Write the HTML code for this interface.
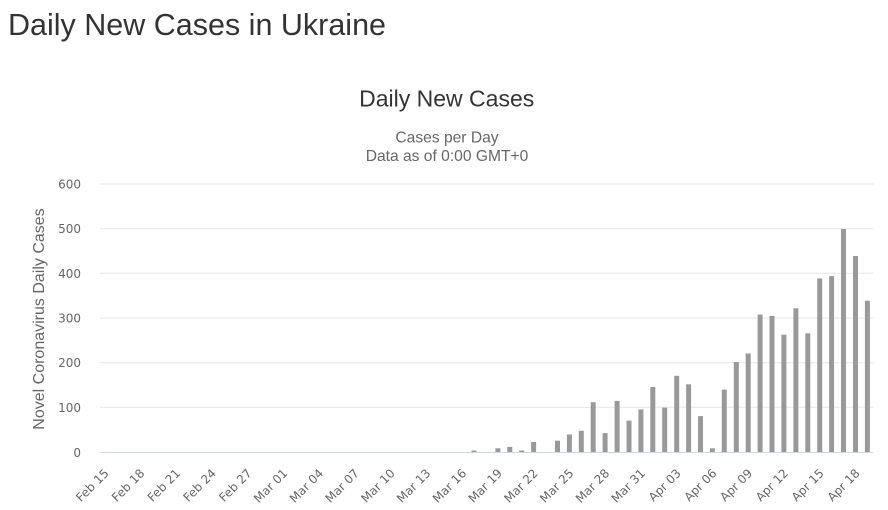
<!DOCTYPE html>
<html><head><meta charset="utf-8"><style>
html,body{margin:0;padding:0;background:#fff;width:888px;height:510px;overflow:hidden}
svg{position:absolute;left:0;top:0}
</style></head><body>
<svg width="888" height="510" viewBox="0 0 888 510" xmlns="http://www.w3.org/2000/svg">
<text x="8" y="35" font-family="Liberation Sans, sans-serif" font-size="30.5" fill="#333">Daily New Cases in Ukraine</text>
<text x="446.7" y="106.7" text-anchor="middle" font-family="Liberation Sans, sans-serif" font-size="23" fill="#333">Daily New Cases</text>
<text x="447" y="142.7" text-anchor="middle" font-family="Liberation Sans, sans-serif" font-size="15.6" fill="#666">Cases per Day</text>
<text x="447" y="161" text-anchor="middle" font-family="Liberation Sans, sans-serif" font-size="15.6" fill="#666">Data as of 0:00 GMT+0</text>
<g stroke="#e6e6e6" stroke-width="1">
<line x1="100" x2="873.5" y1="184" y2="184"/>
<line x1="100" x2="873.5" y1="228.7" y2="228.7"/>
<line x1="100" x2="873.5" y1="273.3" y2="273.3"/>
<line x1="100" x2="873.5" y1="318" y2="318"/>
<line x1="100" x2="873.5" y1="362.7" y2="362.7"/>
<line x1="100" x2="873.5" y1="407.3" y2="407.3"/>
</g>
<g font-family="DejaVu Sans, sans-serif" font-size="12" fill="#666" text-anchor="end">
<text x="81" y="188.5">600</text>
<text x="81" y="233.2">500</text>
<text x="81" y="277.8">400</text>
<text x="81" y="322.5">300</text>
<text x="81" y="367.2">200</text>
<text x="81" y="411.8">100</text>
<text x="81" y="456.8">0</text>
</g>
<text transform="translate(44,319) rotate(-90)" text-anchor="middle" font-family="Liberation Sans, sans-serif" font-size="16" fill="#666">Novel Coronavirus Daily Cases</text>
<g fill="#999">
<rect x="471.5" y="450.5" width="5" height="1.8"/>
<rect x="495.4" y="448.3" width="5" height="4"/>
<rect x="507.3" y="446.9" width="5" height="5.4"/>
<rect x="519.2" y="450.5" width="5" height="1.8"/>
<rect x="531.1" y="442" width="5" height="10.3"/>
<rect x="555" y="440.7" width="5" height="11.6"/>
<rect x="566.9" y="434.4" width="5" height="17.9"/>
<rect x="578.8" y="430.8" width="5" height="21.5"/>
<rect x="590.7" y="402.2" width="5" height="50.1"/>
<rect x="602.6" y="433.1" width="5" height="19.2"/>
<rect x="614.6" y="400.9" width="5" height="51.4"/>
<rect x="626.5" y="420.6" width="5" height="31.7"/>
<rect x="638.4" y="409.4" width="5" height="42.9"/>
<rect x="650.3" y="387" width="5" height="65.3"/>
<rect x="662.2" y="407.6" width="5" height="44.7"/>
<rect x="674.2" y="375.8" width="5" height="76.5"/>
<rect x="686.1" y="384.3" width="5" height="68"/>
<rect x="698" y="416.1" width="5" height="36.2"/>
<rect x="709.9" y="448.3" width="5" height="4"/>
<rect x="721.8" y="389.7" width="5" height="62.6"/>
<rect x="733.8" y="362" width="5" height="90.3"/>
<rect x="745.7" y="353.5" width="5" height="98.8"/>
<rect x="757.6" y="314.6" width="5" height="137.7"/>
<rect x="769.5" y="315.9" width="5" height="136.4"/>
<rect x="781.4" y="334.7" width="5" height="117.6"/>
<rect x="793.4" y="308.3" width="5" height="144"/>
<rect x="805.3" y="333.4" width="5" height="118.9"/>
<rect x="817.2" y="278.4" width="5" height="173.9"/>
<rect x="829.1" y="276.1" width="5" height="176.2"/>
<rect x="841" y="229" width="5" height="223.3"/>
<rect x="853" y="256" width="5" height="196.3"/>
<rect x="864.9" y="300.7" width="5" height="151.6"/>
</g>
<line x1="100" x2="873.5" y1="452.5" y2="452.5" stroke="#ccd6eb" stroke-width="1"/>
<g font-family="DejaVu Sans, sans-serif" font-size="12" fill="#666" text-anchor="end">
<text transform="translate(109.5,474) rotate(-45)">Feb 15</text>
<text transform="translate(145.3,474) rotate(-45)">Feb 18</text>
<text transform="translate(181,474) rotate(-45)">Feb 21</text>
<text transform="translate(216.8,474) rotate(-45)">Feb 24</text>
<text transform="translate(252.5,474) rotate(-45)">Feb 27</text>
<text transform="translate(288.3,474) rotate(-45)">Mar 01</text>
<text transform="translate(324.1,474) rotate(-45)">Mar 04</text>
<text transform="translate(359.8,474) rotate(-45)">Mar 07</text>
<text transform="translate(395.6,474) rotate(-45)">Mar 10</text>
<text transform="translate(431.3,474) rotate(-45)">Mar 13</text>
<text transform="translate(467.1,474) rotate(-45)">Mar 16</text>
<text transform="translate(502.9,474) rotate(-45)">Mar 19</text>
<text transform="translate(538.6,474) rotate(-45)">Mar 22</text>
<text transform="translate(574.4,474) rotate(-45)">Mar 25</text>
<text transform="translate(610.1,474) rotate(-45)">Mar 28</text>
<text transform="translate(645.9,474) rotate(-45)">Mar 31</text>
<text transform="translate(681.7,474) rotate(-45)">Apr 03</text>
<text transform="translate(717.4,474) rotate(-45)">Apr 06</text>
<text transform="translate(753.2,474) rotate(-45)">Apr 09</text>
<text transform="translate(788.9,474) rotate(-45)">Apr 12</text>
<text transform="translate(824.7,474) rotate(-45)">Apr 15</text>
<text transform="translate(860.5,474) rotate(-45)">Apr 18</text>
</g>
</svg>
</body></html>
